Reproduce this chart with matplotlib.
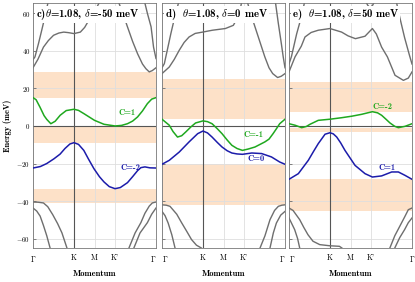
import matplotlib
matplotlib.use("Agg")
import matplotlib.pyplot as pt

matplotlib.rcParams.update({'font.size': 5})
matplotlib.rcParams['mathtext.fontset'] = 'cm'
matplotlib.rcParams['font.family'] = 'serif'
matplotlib.rcParams['font.serif'] = ['cmr10', 'DejaVu Serif']
matplotlib.rcParams['axes.formatter.use_mathtext'] = True

# path positions of the high-symmetry points (Gamma-K-M-K'-Gamma)
kticks = [0, 1/3, 1/2, 2/3, 1]
klabels = [r'$\Gamma$', 'K', 'M', "K'", r'$\Gamma$']
yticks = [-60, -40, -20, 0, 20, 40, 60]

titles = [r'c)$\theta$=1.08, $\delta$=-50 meV',
          r'd)  $\theta$=1.08, $\delta$=0 meV',
          r'e)  $\theta$=1.08, $\delta$=50 meV']

# ---- panel c (delta = -50 meV) ----
c_green_k = [0, 0.025, 0.057, 0.09, 0.112, 0.145, 0.18, 0.221, 0.27, 0.333, 0.37, 0.413,
             0.5, 0.577, 0.667, 0.72, 0.768, 0.81, 0.85, 0.89, 0.93, 0.965, 1]
c_green_E = [15.1, 14, 10, 5.5, 3.5, 1.2, 2.5, 5.7, 8.2, 8.9, 8.3, 6.6,
             3, 0.9, 0, 0.3, 1.2, 2.6, 4.8, 8, 11.9, 14.3, 15.1]
c_blue_k = [0, 0.06, 0.112, 0.17, 0.22, 0.26, 0.3, 0.333, 0.37, 0.413, 0.45, 0.495,
            0.54, 0.577, 0.62, 0.667, 0.71, 0.768, 0.81, 0.85, 0.877, 0.91, 0.95, 1]
c_blue_E = [-22.4, -21.6, -20, -17.5, -15, -12, -9.6, -8.9, -9.8, -13, -17.5, -22.7,
            -27, -29.8, -32.3, -33.4, -32.8, -30.2, -27, -23.8, -22.2, -21.8, -22.3, -22.4]
c_remote = [
    ([0, 0.016, 0.045, 0.071, 0.1, 0.126], [35.3, 36.8, 44, 51, 59, 67]),
    ([0, 0.04, 0.085, 0.125, 0.167, 0.21, 0.25, 0.29, 0.333, 0.385, 0.42, 0.454, 0.49, 0.52, 0.55],
     [31, 35.5, 42, 45.5, 48.3, 49.5, 50, 49.7, 49.2, 50, 52.5, 56.3, 60, 63.4, 67]),
    ([0.69, 0.73, 0.768, 0.81, 0.85, 0.89, 0.918, 0.945, 0.97, 1],
     [67, 60, 52.8, 45, 38.5, 33, 30.5, 28.8, 29.5, 31]),
    ([0.904, 0.93, 0.96, 0.98, 1], [67, 60, 52.8, 42, 35.9]),
    ([0, 0.04, 0.085, 0.12, 0.16, 0.2, 0.235, 0.276], [-40.5, -40.6, -41, -43, -47.2, -52, -56.9, -65]),
    ([0, 0.03, 0.058, 0.085, 0.112, 0.139], [-43.7, -45.3, -48, -53, -58.5, -65]),
    ([0.78, 0.83, 0.877, 0.91, 0.945, 0.97, 1], [-65, -57, -51.5, -46.5, -42.7, -41, -40.5]),
    ([0.82, 0.87, 0.93, 0.965, 1], [-65, -57, -51.5, -47, -43.7]),
]
c_gaps = [(15.1, 28.6), (-8.9, 0), (-40.8, -33.4)]
c_labels = [('C=1', 0.768, 6.8, 'green'), ('C=-2', 0.795, -22.5, 'blue')]

# ---- panel d (delta = 0 meV) ----
d_green_k = [0, 0.059, 0.09, 0.126, 0.16, 0.193, 0.235, 0.273, 0.333, 0.37, 0.407, 0.45,
             0.488, 0.53, 0.568, 0.61, 0.654, 0.7, 0.756, 0.836, 0.87, 0.903, 0.93, 0.957, 1]
d_green_E = [3.6, 0.4, -3, -5.9, -5.2, -3.2, -0.5, 1.6, 2.7, 2.3, 1.2, -1.5,
             -4.1, -7.5, -10.3, -12, -13, -12.3, -11.2, -8.5, -7, -4.1, -1.5, 1.2, 3.6]
d_blue_k = [0, 0.059, 0.14, 0.22, 0.29, 0.333, 0.37, 0.407, 0.45, 0.488, 0.53, 0.568,
            0.61, 0.654, 0.73, 0.81, 0.89, 0.957, 1]
d_blue_E = [-20.4, -18.3, -13.9, -8.5, -4.1, -2.7, -3.7, -5.9, -8.8, -11.2, -13.2, -14.4,
            -14.9, -15.1, -14.4, -14.7, -16.5, -19.2, -20.4]
d_remote = [
    ([0, 0.019, 0.045, 0.072, 0.1, 0.14], [31, 33.2, 41, 49.2, 57, 67]),
    ([0, 0.059, 0.1, 0.14, 0.18, 0.22, 0.27, 0.33, 0.41, 0.515, 0.58, 0.617, 0.635, 0.65],
     [27.9, 31.4, 35.5, 40.3, 44.5, 47.4, 49.3, 50, 51, 51.9, 53.6, 58, 61.6, 67]),
    ([0.69, 0.72, 0.756, 0.8, 0.836, 0.87, 0.9, 0.94, 0.97, 1],
     [67, 60, 52.8, 44, 36.8, 31, 27.9, 25.8, 26.5, 27.9]),
    ([0.92, 0.945, 0.97, 0.985, 1], [67, 55, 44, 37, 31]),
    ([0, 0.035, 0.065, 0.12, 0.16, 0.2, 0.24, 0.28, 0.32], [-42, -42.2, -42.8, -47, -51.6, -56, -60.5, -63.5, -65]),
    ([0, 0.025, 0.05, 0.08, 0.106], [-45.5, -47.8, -51.7, -58, -65]),
    ([0.797, 0.837, 0.878, 0.915, 0.946, 0.975, 1], [-65, -58.5, -49.9, -45, -42.8, -42.2, -42]),
    ([0.878, 0.905, 0.93, 0.965, 1], [-65, -57, -51.7, -47.5, -45.5]),
]
d_gaps = [(3.6, 25), (-42.3, -20.4)]
d_labels = [('C=-1', 0.74, -4.8, 'green'), ('C=0', 0.765, -17.8, 'blue')]

# ---- panel e (delta = 50 meV) ----
e_green_k = [0, 0.049, 0.103, 0.14, 0.171, 0.238, 0.333, 0.428, 0.51, 0.59, 0.64, 0.678,
             0.72, 0.753, 0.79, 0.821, 0.86, 0.889, 0.943, 1]
e_green_E = [1.2, 0.4, -0.9, -0.3, 0.9, 3, 3.6, 4.4, 5.2, 6.2, 7, 7.6,
             7, 5.7, 3.5, 1.6, -0.2, -0.9, -0.2, 1.2]
e_blue_k = [0, 0.076, 0.157, 0.2, 0.238, 0.293, 0.333, 0.36, 0.388, 0.42, 0.455, 0.537,
            0.618, 0.678, 0.753, 0.835, 0.889, 0.943, 1]
e_blue_E = [-28.4, -25.4, -18.3, -13.5, -9.4, -4.4, -3.6, -4.2, -5.9, -9, -13, -21,
            -25.4, -27.2, -26.6, -24.5, -24.5, -26.3, -28.4]
e_remote = [
    ([0, 0.02, 0.062, 0.1, 0.13], [33, 37, 49, 58, 67]),
    ([0, 0.049, 0.1, 0.13, 0.18, 0.238, 0.333, 0.428, 0.48, 0.54, 0.618, 0.65, 0.678,
      0.71, 0.753, 0.8, 0.862, 0.93, 0.97, 1],
     [28.8, 36.8, 42.5, 47.4, 49.8, 51, 51.9, 50, 48, 46.5, 47.8, 50, 51.9,
      49, 42, 36.8, 27, 24.3, 25.5, 28.8]),
    ([0.87, 0.9, 0.94, 0.98, 1], [67, 58, 47, 37.5, 33]),
    ([0.618, 0.64, 0.659, 0.68, 0.7], [67, 64.3, 63, 64.3, 67]),
    ([0, 0.033, 0.087, 0.12, 0.154, 0.195, 0.25, 0.33, 0.41, 0.43],
     [-43.7, -45, -49.9, -54, -57.9, -61.4, -63.2, -63.8, -64.1, -65]),
    ([0, 0.046, 0.07, 0.087], [-49, -55.2, -60, -65]),
    ([0.82, 0.86, 0.9, 0.94, 0.97, 1], [-65, -58.5, -53.5, -48.5, -44.6, -43.7]),
    ([0.86, 0.9, 0.94, 0.97, 1], [-65, -59.5, -55.2, -51.5, -49]),
]
e_gaps = [(7.6, 23.4), (-3.4, -0.9), (-45.3, -28.4)]
e_labels = [('C=-2', 0.76, 10.2, 'green'), ('C=1', 0.80, -22.3, 'blue')]

panels = [
    (c_green_k, c_green_E, c_blue_k, c_blue_E, c_remote, c_gaps, c_labels),
    (d_green_k, d_green_E, d_blue_k, d_blue_E, d_remote, d_gaps, d_labels),
    (e_green_k, e_green_E, e_blue_k, e_blue_E, e_remote, e_gaps, e_labels),
]

green = '#1fa81f'
blue = '#1c1caa'
colors = {'green': green, 'blue': blue}

fig = pt.figure(figsize=(4.15, 2.82), dpi=100)
lefts = [33/415, 162/415, 289/415]
W, H = 123/415, 245/282
B = 1 - 248/282

for n, (gk, gE, bk, bE, remote, gaps, labels) in enumerate(panels):
    ax = fig.add_axes([lefts[n], B, W, H])
    for lo, hi in gaps:
        ax.axhspan(lo, hi, color='#fde1c8', lw=0, zorder=0)
    ax.axhline(0, color='#555555', lw=0.8, zorder=1)
    ax.axvline(1/3, color='#555555', lw=0.8, zorder=1)
    for k, E in remote:
        ax.plot(k, E, color='#6e6e6e', lw=1.0, zorder=2)
    ax.plot(gk, gE, color=green, lw=1.1, zorder=3)
    ax.plot(bk, bE, color=blue, lw=1.1, zorder=3)
    for txt, x, y, c in labels:
        ax.text(x, y, txt, color=colors[c], fontfamily='cmb10', fontsize=6.2,
                ha='center', va='center', zorder=4)
    ax.text(0.025, 0.952, titles[n], transform=ax.transAxes, fontfamily='cmb10',
            fontsize=7.8, ha='left', va='center', zorder=5,
            bbox=dict(facecolor='white', edgecolor='none', pad=0.6))

    ax.set_xlim(0, 1)
    ax.set_ylim(-65, 65.5)
    ax.set_xticks(kticks)
    ax.set_xticklabels(klabels, fontsize=5.5)
    # keep the neighbouring Gamma labels of adjacent panels apart
    tl = ax.get_xticklabels()
    if n < 2:
        tl[-1].set_ha('right')
    if n > 0:
        tl[0].set_ha('left')
    ax.set_yticks(yticks)
    ax.grid(True, color='#dedede', lw=0.6, zorder=0)
    ax.set_axisbelow(True)
    ax.tick_params(axis='x', length=0, pad=4)
    ax.tick_params(axis='y', direction='in', length=2, width=0.5, color='#555555', pad=2)
    if n > 0:
        ax.set_yticklabels([])
    else:
        ax.set_ylabel('Energy (meV)', fontfamily='cmb10', fontsize=6, labelpad=3)
    ax.set_xlabel('Momentum', fontfamily='cmb10', fontsize=6.2, labelpad=5)
    for s in ax.spines.values():
        s.set_color('#777777')
        s.set_linewidth(0.6)

pt.savefig('out.png', dpi=100)
